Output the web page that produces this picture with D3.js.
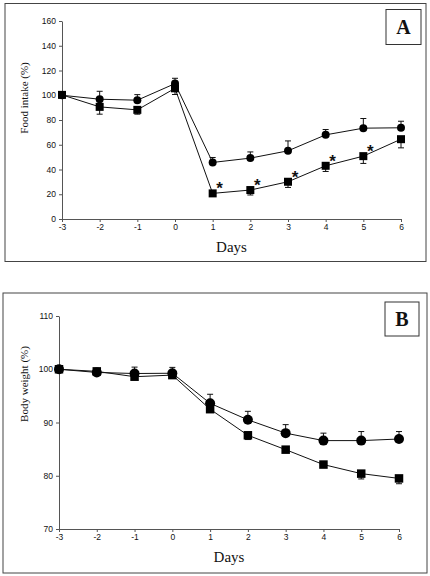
<!DOCTYPE html>
<html><head><meta charset="utf-8">
<script src="https://cdn.jsdelivr.net/npm/d3@7"></script>
<style>
html,body{margin:0;padding:0;background:#fff;}
svg{display:block;}
.tick text{font-family:"Liberation Sans",Arial,sans-serif;font-size:8.5px;fill:#111;}
</style></head>
<body>
<svg id="chart" width="430" height="576"></svg>
<script>
// ---- data ----
const days = [-3, -2, -1, 0, 1, 2, 3, 4, 5, 6];
const xTicks = [-3, -2, -1, 0, 1, 2, 3, 4, 5, 6];

const foodTicks = [0, 20, 40, 60, 80, 100, 120, 140, 160];
const foodCircle = [100, 96.8, 96, 109.4, 45.7, 49.2, 55.1, 68, 73.4, 73.7];
const foodCircleErr = [0, 6.4, 4.5, 4.3, 4, 5, 8, 4.3, 7.8, 5.3];
const foodSquare = [100.3, 90.6, 88.2, 105.6, 20.7, 23.4, 30.1, 43, 50.8, 64.5];
const foodSquareErr = [0, 5.9, 3.5, 5, 1.5, 4, 4.6, 4.6, 5.9, 7];
const foodStars = [1, 2, 3, 4, 5];

const bodyTicks = [70, 80, 90, 100, 110];
const bodyCircle = [100, 99.4, 99.2, 99.25, 93.6, 90.5, 88, 86.6, 86.6, 86.9];
const bodyCircleErr = [0, 0.3, 1.2, 1.1, 1.7, 1.6, 1.6, 1.4, 1.7, 1.4];
const bodySquare = [100, 99.6, 98.6, 98.9, 92.5, 87.6, 84.9, 82.1, 80.4, 79.5];
const bodySquareErr = [0, 0.2, 0.3, 0.3, 0.3, 0.8, 0.3, 0.3, 1, 1];

const svg = d3.select("#chart");

function panel(cfg) {
  const g = svg.append("g");
  // frame
  g.append("rect").attr("x", cfg.frame[0]).attr("y", cfg.frame[1])
    .attr("width", cfg.frame[2]).attr("height", cfg.frame[3])
    .attr("fill", "none").attr("stroke", "#444").attr("stroke-width", 1);
  // label box
  g.append("rect").attr("x", cfg.box[0]).attr("y", cfg.box[1])
    .attr("width", cfg.box[2]).attr("height", cfg.box[3])
    .attr("fill", "#fff").attr("stroke", "#333").attr("stroke-width", 1);
  g.append("text").attr("x", cfg.box[0] + cfg.box[2] / 2).attr("y", cfg.box[1] + cfg.box[3] / 2 + 7)
    .attr("text-anchor", "middle").attr("font-family", "Liberation Serif, Times New Roman, serif")
    .attr("font-weight", "bold").attr("font-size", 20).attr("fill", "#111").text(cfg.letter);

  const x = d3.scaleLinear().domain([-3, 6]).range(cfg.xr);
  const y = d3.scaleLinear().domain(cfg.yd).range(cfg.yr);

  const ax = g.append("g").attr("transform", `translate(0,${cfg.yr[0]})`)
    .call(d3.axisBottom(x).tickValues(xTicks).tickFormat(d => String(d)).tickSize(3).tickSizeOuter(0).tickPadding(2));
  const ay = g.append("g").attr("transform", `translate(${cfg.xr[0]},0)`)
    .call(d3.axisLeft(y).tickValues(cfg.ticks).tickFormat(d => String(d)).tickSize(3).tickSizeOuter(0).tickPadding(3));
  [ax, ay].forEach(a => {
    a.select(".domain").attr("stroke", "#555");
    a.selectAll(".tick line").attr("stroke", "#555");
  });

  // axis titles
  g.append("text").attr("x", (cfg.xr[0] + cfg.xr[1]) / 2).attr("y", cfg.daysY)
    .attr("text-anchor", "middle").attr("font-family", "Liberation Serif, Times New Roman, serif")
    .attr("font-size", 15).attr("fill", "#111").text("Days");
  g.append("text").attr("transform", `translate(${cfg.ylabX},${cfg.ylabY}) rotate(-90)`)
    .attr("text-anchor", "middle").attr("font-family", "Liberation Serif, Times New Roman, serif")
    .attr("font-size", 11).attr("fill", "#111").text(cfg.ylab);

  const line = d3.line().x((d, i) => x(days[i])).y(d => y(d));
  const cap = 3;

  // error bars: circles upward, squares downward
  const eb = g.append("g").attr("stroke", "#111").attr("stroke-width", 1);
  cfg.circ.forEach((v, i) => {
    const e = cfg.circErr[i]; if (!e) return;
    const xx = x(days[i]);
    eb.append("line").attr("x1", xx).attr("x2", xx).attr("y1", y(v)).attr("y2", y(v + e));
    eb.append("line").attr("x1", xx - cap).attr("x2", xx + cap).attr("y1", y(v + e)).attr("y2", y(v + e));
  });
  cfg.sq.forEach((v, i) => {
    const e = cfg.sqErr[i]; if (!e) return;
    const xx = x(days[i]);
    eb.append("line").attr("x1", xx).attr("x2", xx).attr("y1", y(v)).attr("y2", y(v - e));
    eb.append("line").attr("x1", xx - cap).attr("x2", xx + cap).attr("y1", y(v - e)).attr("y2", y(v - e));
  });

  g.append("path").datum(cfg.circ).attr("d", line).attr("fill", "none").attr("stroke", "#111").attr("stroke-width", 1);
  g.append("path").datum(cfg.sq).attr("d", line).attr("fill", "none").attr("stroke", "#111").attr("stroke-width", 1);

  g.selectAll(".sq").data(cfg.sq).join("rect")
    .attr("x", (d, i) => x(days[i]) - cfg.sqS / 2).attr("y", d => y(d) - cfg.sqS / 2)
    .attr("width", cfg.sqS).attr("height", cfg.sqS).attr("fill", "#000");
  g.selectAll(".ci").data(cfg.circ).join("circle")
    .attr("cx", (d, i) => x(days[i])).attr("cy", d => y(d)).attr("r", cfg.r).attr("fill", "#000");

  if (cfg.stars) {
    g.selectAll(".star").data(cfg.stars).join("text")
      .attr("x", d => x(d) + 7).attr("y", d => y(cfg.sq[days.indexOf(d)]) + 1)
      .attr("text-anchor", "middle").attr("font-family", "Liberation Sans, Arial, sans-serif")
      .attr("font-weight", "bold").attr("font-size", 17).attr("fill", "#111").text("*");
  }
}

panel({
  frame: [5, 3.5, 421, 258], box: [386, 9.5, 35, 35], letter: "A",
  xr: [62, 401], yr: [219, 21], yd: [0, 160], ticks: foodTicks,
  daysY: 252, ylabX: 28, ylabY: 98, ylab: "Food intake (%)",
  circ: foodCircle, circErr: foodCircleErr, sq: foodSquare, sqErr: foodSquareErr,
  r: 4, sqS: 8, stars: foodStars
});
panel({
  frame: [3, 293, 424, 280], box: [385, 302, 34, 34], letter: "B",
  xr: [59, 399], yr: [529, 316], yd: [70, 110], ticks: bodyTicks,
  daysY: 562, ylabX: 28, ylabY: 384, ylab: "Body weight (%)",
  circ: bodyCircle, circErr: bodyCircleErr, sq: bodySquare, sqErr: bodySquareErr,
  r: 5, sqS: 8.5, stars: null
});
</script>
</body></html>
